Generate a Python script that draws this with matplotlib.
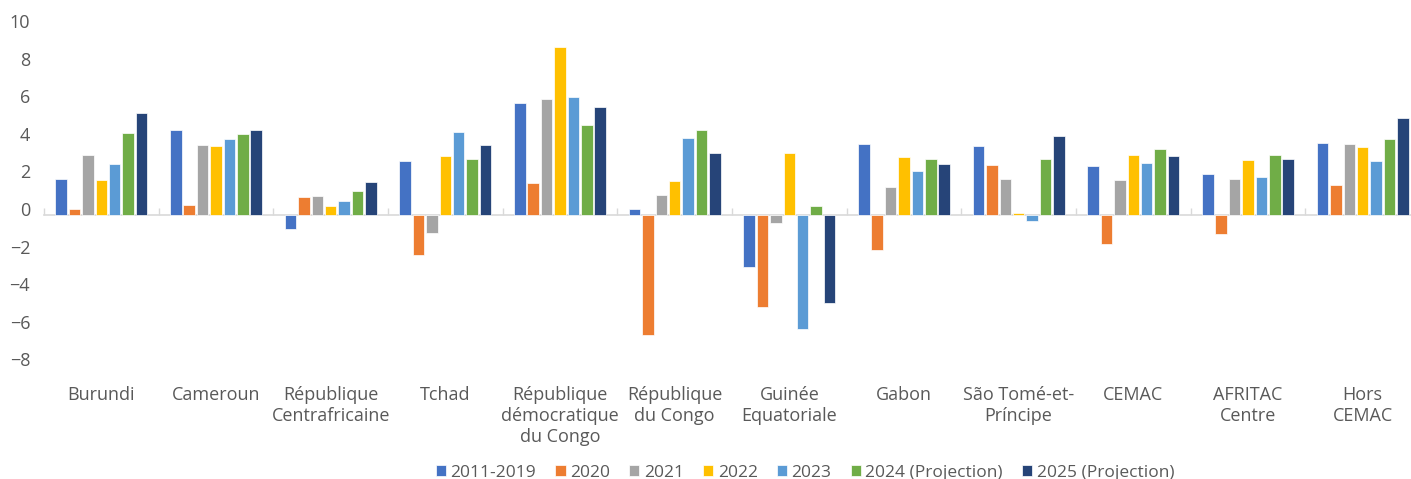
import matplotlib
matplotlib.use("Agg")
import matplotlib.pyplot as plt
import matplotlib.transforms as mtransforms
import numpy as np

plt.rcParams['font.family'] = ['Open Sans', 'DejaVu Sans']
plt.rcParams['font.size'] = 13
plt.rcParams['text.color'] = '#595959'

countries = ["Burundi", "Cameroun", "République\nCentrafricaine", "Tchad",
             "République\ndémocratique\ndu Congo", "République\ndu Congo",
             "Guinée\nEquatoriale", "Gabon", "São Tomé-et-\nPríncipe", "CEMAC",
             "AFRITAC\nCentre", "Hors\nCEMAC"]

series_names = ["2011-2019", "2020", "2021", "2022", "2023",
                "2024 (Projection)", "2025 (Projection)"]

g_2011_2019 = [1.90, 4.50, -0.76, 2.87, 5.97, 0.32, -2.75, 3.78, 3.65, 2.59, 2.18, 3.83]
g_2020 = [0.32, 0.53, 0.96, -2.13, 1.70, -6.40, -4.88, -1.84, 2.66, -1.53, -1.01, 1.58]
g_2021 = [3.17, 3.71, 0.99, -0.94, 6.17, 1.06, -0.41, 1.49, 1.91, 1.86, 1.91, 3.76]
g_2022 = [1.86, 3.67, 0.46, 3.14, 8.94, 1.79, 3.30, 3.10, 0.10, 3.19, 2.93, 3.62]
g_2023 = [2.70, 4.04, 0.73, 4.43, 6.26, 4.11, -6.08, 2.32, -0.30, 2.77, 2.02, 2.87]
g_2024 = [4.36, 4.33, 1.28, 2.96, 4.79, 4.52, 0.46, 2.96, 2.96, 3.49, 3.19, 4.03]
g_2025 = [5.44, 4.54, 1.74, 3.72, 5.76, 3.28, -4.70, 2.71, 4.18, 3.14, 2.96, 5.14]

colours = ["#4472C4", "#ED7D31", "#A5A5A5", "#FFC000", "#5B9BD5", "#70AD47", "#264478"]

all_series = [g_2011_2019, g_2020, g_2021, g_2022, g_2023, g_2024, g_2025]

fig = plt.figure(figsize=(14.11, 4.79), dpi=100)
ax = fig.add_axes([44 / 1411, 0.23716, 1376 / 1411, 0.70647])

x = np.arange(len(countries))
slot = 0.1168
for i, vals in enumerate(all_series):
    offs = (i - 3) * slot
    ax.bar(x + offs, vals, width=0.1, color=colours[i], edgecolor='white',
           linewidth=0.5, label=series_names[i], zorder=2)

ymin, ymax = -8, 10
ax.set_ylim(ymin, ymax)
ax.set_xlim(-0.5, len(countries) - 0.5)
ax.set_yticks(range(-8, 11, 2))
ax.set_xticks(x)
ax.set_xticklabels(countries)

for s in ax.spines.values():
    s.set_visible(False)
ax.tick_params(axis='x', length=0, pad=15, labelcolor='#595959', labelsize=13)
ax.tick_params(axis='y', length=0, pad=10, labelcolor='#595959', labelsize=13)

# y labels sit slightly above their gridline in the reference
off = mtransforms.ScaledTranslation(0, 6 / 100, fig.dpi_scale_trans)
for lab in ax.get_yticklabels():
    lab.set_transform(lab.get_transform() + off)

# category axis drawn at zero with small ticks between groups
sec = ax.secondary_xaxis(-ymin / (ymax - ymin))
sec.set_xticks(np.arange(len(countries) + 1) - 0.5)
sec.tick_params(direction='in', length=5, width=1, color='#d9d9d9', labelbottom=False)
sec.spines['bottom'].set_color('#d9d9d9')
sec.spines['bottom'].set_linewidth(1.2)

fig.legend(loc='center', bbox_to_anchor=(805 / 1411, 6 / 479), ncol=7, frameon=False,
           fontsize=12.5, handlelength=0.6, handleheight=0.6, handletextpad=0.25,
           columnspacing=1.1, labelcolor='#595959')

fig.savefig('out.png', dpi=100)
